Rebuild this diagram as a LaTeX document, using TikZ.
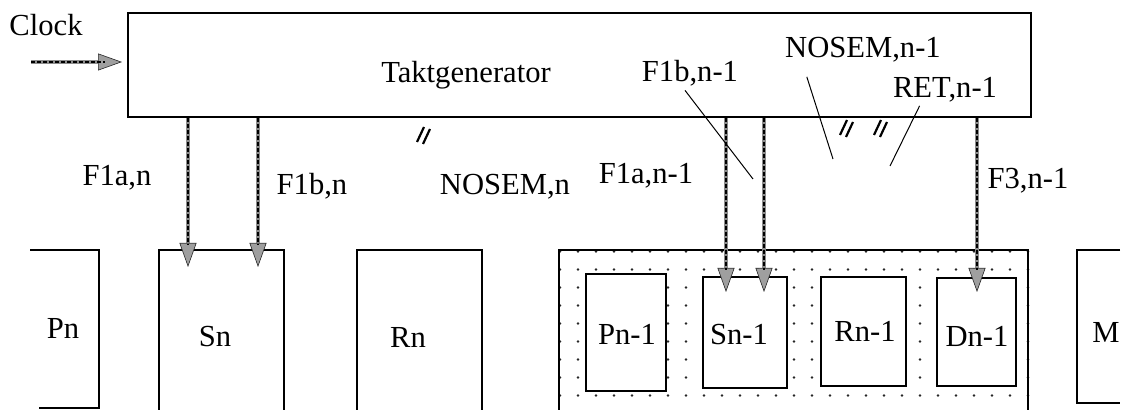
\documentclass[tikz,border=0pt]{standalone}
\usepackage{fontspec}
\setmainfont{Liberation Serif}
\usetikzlibrary{arrows.meta}
\tikzset{
  blk/.style={draw, line width=1pt, fill=white, inner sep=0pt},
  txt/.style={font=\fontsize{15.3}{18}\selectfont, inner sep=0pt},
  sig/.style={draw=black!45, line width=1.7pt,
    -{Triangle[length=12pt, width=8.5pt, color=black!85, fill=gray!75, line width=0.3pt]},
    postaction={draw=black, line width=1pt, dash pattern=on 2pt off 1pt, -, shorten >=11pt}},
  lead/.style={line width=0.5pt},
  hatch/.style={line width=1.1pt},
}

\begin{document}
\begin{tikzpicture}[x=0.5pt, y=-0.5pt]
  \useasboundingbox (0,0) rectangle (1126,410);
  \clip (0,0) rectangle (1126,410);
  % clock generator
  \node[blk, minimum width=451.5pt, minimum height=52pt] (tg) at (579.5,65) {};
  \node[txt] (tgname) at (466,75) {Taktgenerator};
  \node[txt] (clock) at (46,25) {Clock};
  \coordinate (clk) at (31,62);
  \draw[sig, shorten >=2.5pt] (clk) -- (tg.west |- clk);
  % level n
  \draw[line width=1pt] (30,250) -- (99,250) -- (99,408) -- (39,408);
  \node[txt] (pn) at (63,328) {Pn};
  \node[blk, minimum width=62.5pt, minimum height=87pt] (sn) at (221.5,337) {};
  \node[txt] (snlab) at (215,337) {Sn};
  \node[blk, minimum width=62.5pt, minimum height=87pt] (rn) at (419.5,337) {};
  \node[txt] (rnlab) at (408,337) {Rn};
  % level n-1, dotted frame
  \foreach \i in {0,...,26}
    \foreach \j in {0,...,8}
      \fill[black!85] (560+18*\i,251.5+18*\j) circle (0.65pt);
  \node[blk, fill=none, minimum width=234.5pt, minimum height=90pt] (frame) at (793.5,340) {};
  \node[blk, minimum width=40pt, minimum height=58.5pt] (pn1) at (626,332.5) {};
  \node[txt] (pn1lab) at (627,334) {Pn-1};
  \node[blk, minimum width=42pt, minimum height=55.5pt] (sn1) at (745,332.5) {};
  \node[txt] (sn1lab) at (739,335) {Sn-1};
  \node[blk, minimum width=42.5pt, minimum height=54.5pt] (rn1) at (863.5,331.5) {};
  \node[txt] (rn1lab) at (865,331) {Rn-1};
  \node[blk, minimum width=39.5pt, minimum height=54pt] (dn1) at (976.5,332) {};
  \node[txt] (dn1lab) at (977,336) {Dn-1};
  % memory
  \draw[line width=1pt] (1120,250) -- (1077,250) -- (1077,403) -- (1120,403);
  \node[txt] (m) at (1106,332) {M};
  % clock phases
  \coordinate (s1) at (188,267);
  \coordinate (s2) at (258,267);
  \coordinate (s3) at (726,292);
  \coordinate (s4) at (764,292);
  \coordinate (s5) at (977,292);
  \foreach \p in {s1,s2,s3,s4,s5}
    \draw[sig] (tg.south -| \p) -- (\p);
  \node[txt] (f1an) at (117,178) {F1a,n};
  \node[txt] (f1bn) at (312,186) {F1b,n};
  \node[txt] (nosemn) at (505,187) {NOSEM,n};
  \node[txt] (f1an1) at (646,176) {F1a,n-1};
  \node[txt] (f1bn1) at (690,73) {F1b,n-1};
  \node[txt] (nosemn1) at (863,50) {NOSEM,n-1};
  \node[txt] (retn1) at (945,90) {RET,n-1};
  \node[txt] (f3n1) at (1028,181) {F3,n-1};
  % leaders
  \coordinate (l1) at (753,179);
  \coordinate (l2) at (833,159);
  \coordinate (l3) at (890,166);
  \draw[lead] (f1bn1.south) ++(-5,4) -- (l1);
  \draw[lead] (nosemn1.south west) ++(22,14) -- (l2);
  \draw[lead] (retn1.south west) ++(27,3) -- (l3);
  % bus marks
  \foreach \hx/\hy in {423/135, 846/128, 880/128} {
    \draw[hatch] (\hx-6,\hy+7) -- (\hx+1,\hy-8);
    \draw[hatch] (\hx,\hy+9) -- (\hx+7,\hy-6);
  }
\end{tikzpicture}
\end{document}
